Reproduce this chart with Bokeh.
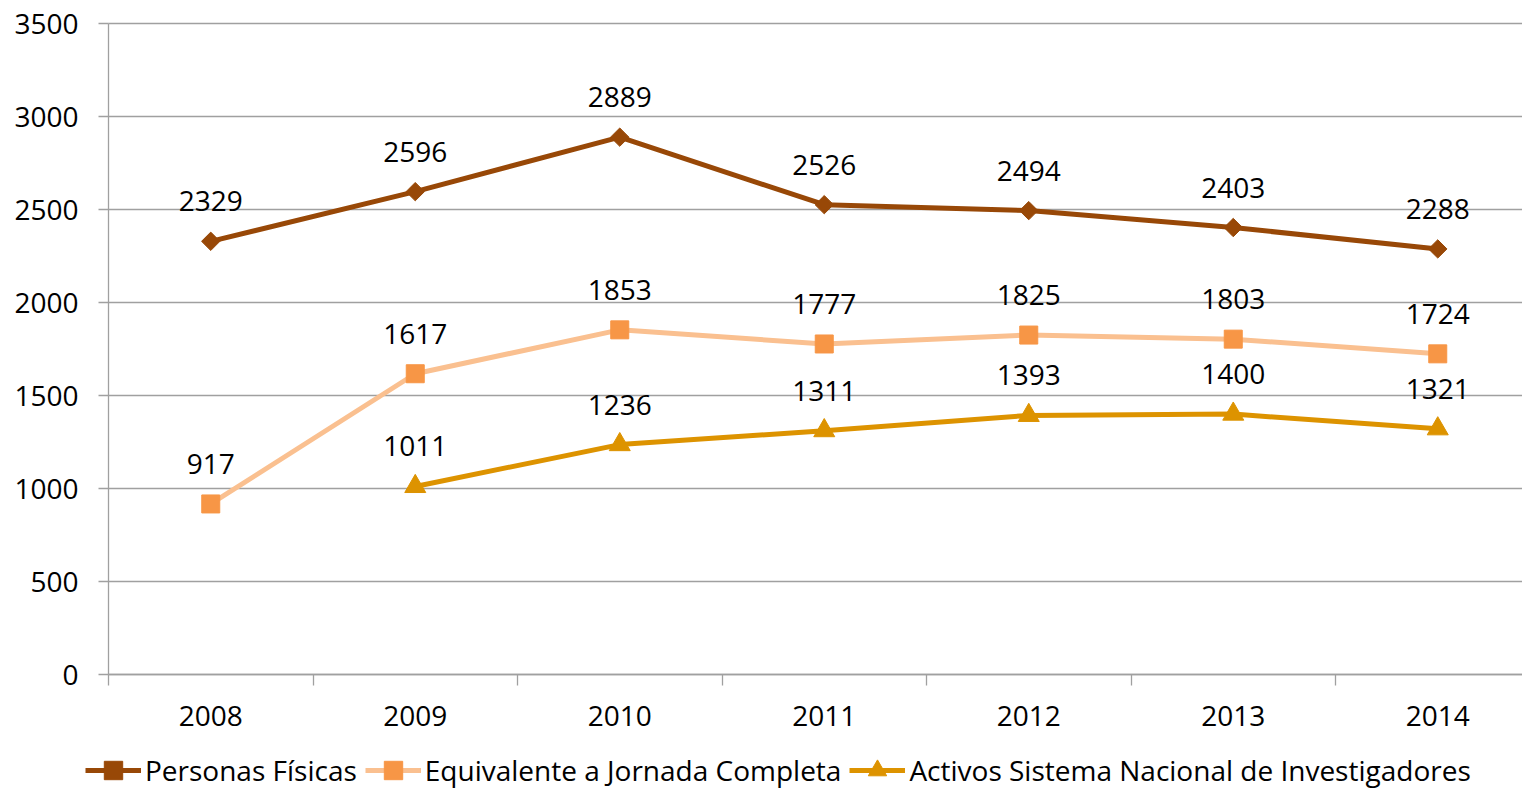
import math
from bokeh.plotting import figure
from bokeh.models import (Range1d, FixedTicker, Legend, LegendItem, ColumnDataSource)
from bokeh.core.properties import value
from bokeh.embed import file_html
from bokeh.resources import INLINE

years = ["2008", "2009", "2010", "2011", "2012", "2013", "2014"]
personas = [2329, 2596, 2889, 2526, 2494, 2403, 2288]
equivalente = [917, 1617, 1853, 1777, 1825, 1803, 1724]
activos = [None, 1011, 1236, 1311, 1393, 1400, 1321]
series_names = ["Personas Físicas", "Equivalente a Jornada Completa",
                "Activos Sistema Nacional de Investigadores"]
y_ticks = [0, 500, 1000, 1500, 2000, 2500, 3000, 3500]

FONT = "Open Sans"
FS = "28px"
xc = [i + 0.5 for i in range(len(years))]

W, H = 1522, 792
left_px, top_px, bottom_px = 108, 23, 674
cat_px = 204.5
ypp = 3500 / (bottom_px - top_px)
x0 = -left_px / cat_px
x1 = (W - left_px) / cat_px
y0 = -(H - bottom_px) * ypp
y1 = 3500 + top_px * ypp

p = figure(width=W, height=H, output_backend="svg", toolbar_location=None,
           x_range=Range1d(x0, x1), y_range=Range1d(y0, y1),
           min_border=0)
p.outline_line_color = None
p.background_fill_color = "white"
p.xgrid.grid_line_color = None
p.ygrid.grid_line_color = "#A0A0A0"
p.ygrid.grid_line_width = 1.3
p.ygrid.ticker = FixedTicker(ticks=y_ticks)
p.ygrid.cross_bounds = (0, x1)

p.yaxis.fixed_location = 0
p.yaxis.bounds = (0, 3500)
p.yaxis.ticker = FixedTicker(ticks=y_ticks)
p.yaxis.axis_line_color = "#A0A0A0"
p.yaxis.axis_line_width = 1.3
p.yaxis.major_tick_line_color = "#A0A0A0"
p.yaxis.major_tick_line_width = 1.3
p.yaxis.major_tick_in = 0
p.yaxis.major_tick_out = 10
p.yaxis.minor_tick_line_color = None
p.yaxis.major_label_standoff = 20
p.yaxis.major_label_text_font = FONT
p.yaxis.major_label_text_font_size = FS
p.yaxis.major_label_text_color = "black"

p.xaxis.fixed_location = 0
p.xaxis.bounds = (0, x1)
p.xaxis.ticker = FixedTicker(ticks=xc, minor_ticks=list(range(0, 7)))
p.xaxis.major_label_overrides = {c: y for c, y in zip(xc, years)}
p.xaxis.axis_line_color = "#A0A0A0"
p.xaxis.axis_line_width = 1.3
p.xaxis.major_tick_line_color = None
p.xaxis.minor_tick_line_color = "#A0A0A0"
p.xaxis.minor_tick_line_width = 1.3
p.xaxis.minor_tick_in = 0
p.xaxis.minor_tick_out = 11
p.xaxis.major_label_standoff = 20
p.xaxis.major_label_text_font = FONT
p.xaxis.major_label_text_font_size = FS
p.xaxis.major_label_text_color = "black"

c1 = "#984807"
c2l, c2m = "#FAC090", "#F79646"
c3 = "#DD9300"

ax = [x for x, v in zip(xc, activos) if v is not None]
av = [v for v in activos if v is not None]

l1 = p.line(xc, personas, line_color=c1, line_width=5)
m1 = p.scatter(xc, personas, marker="square", size=13, angle=math.pi / 4,
               fill_color=c1, line_color=c1)
l2 = p.line(xc, equivalente, line_color=c2l, line_width=5)
m2 = p.scatter(xc, equivalente, marker="square", size=18, fill_color=c2m, line_color=c2m)
l3 = p.line(ax, av, line_color=c3, line_width=5)
m3 = p.scatter(ax, av, marker="triangle", size=21, fill_color=c3, line_color=c3)

for xs, vs in ((xc, personas), (xc, equivalente), (ax, av)):
    src = ColumnDataSource(dict(x=xs, y=vs, t=[str(v) for v in vs]))
    p.text("x", "y", text="t", source=src, y_offset=-40, text_align="center",
           text_baseline="middle", text_font=value(FONT), text_font_size=FS,
           text_color="black")

legend = Legend(items=[LegendItem(label=series_names[0], renderers=[l1, m1]),
                       LegendItem(label=series_names[1], renderers=[l2, m2]),
                       LegendItem(label=series_names[2], renderers=[l3, m3])],
                orientation="horizontal", location=(85, -1),
                border_line_color=None, background_fill_alpha=0,
                padding=0, margin=0, spacing=8, label_standoff=4,
                glyph_width=56, glyph_height=46,
                label_text_font=FONT, label_text_font_size=FS,
                label_text_color="black")
p.add_layout(legend)

open("out.html", "w").write(file_html(p, INLINE))
